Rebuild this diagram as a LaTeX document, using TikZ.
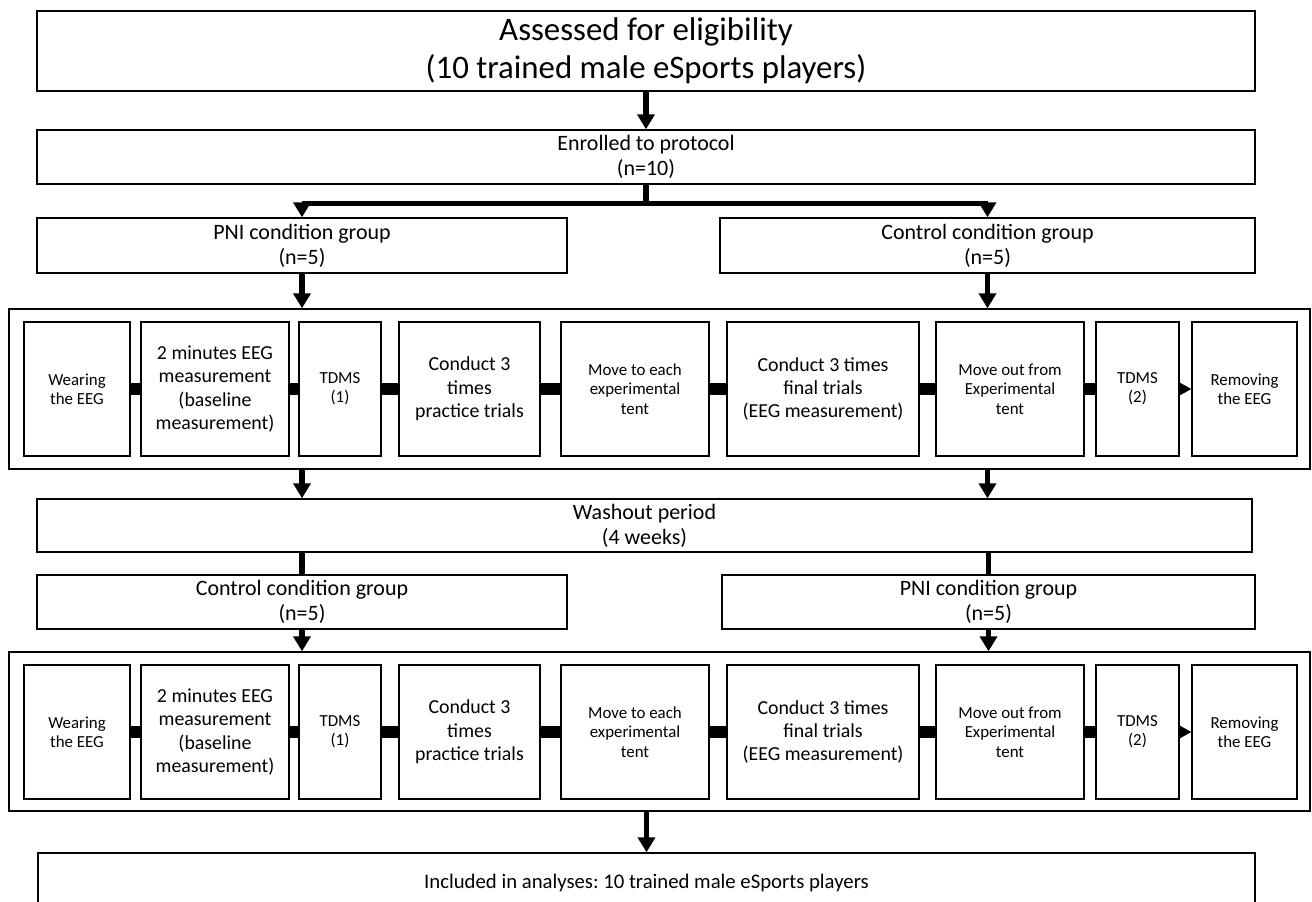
\documentclass[tikz,border=0pt]{standalone}
\usepackage{fontspec}
\setmainfont{Carlito}
\frenchspacing
\usetikzlibrary{arrows.meta, positioning, calc}

\begin{document}
\begin{tikzpicture}[
  x=0.02cm, y=-0.02cm,
  box/.style={rectangle, draw=black, line width=0.8pt, inner sep=0pt, align=center},
  titlefont/.style={font=\fontsize{18.7}{21.5}\selectfont},
  midfont/.style={font=\fontsize{12.5}{14.2}\selectfont},
  stepbig/.style={box, minimum height=2.68cm, font=\fontsize{11.3}{13.3}\selectfont},
  stepsmall/.style={box, minimum height=2.68cm, font=\fontsize{9.6}{11}\selectfont},
  arr/.style={-{Triangle[length=0.3cm, width=0.34cm]}, line width=3pt, black},
  bar/.style={line width=0.24cm, black},
  tip/.style={-{Triangle[length=0.26cm, width=0.28cm]}, line width=1pt, black},
]
\clip (0,0) rectangle (1312,902);

% Enrolment
\node[box, titlefont, minimum width=24.36cm, minimum height=1.6cm] (assess) at (646,51)
  {Assessed for eligibility\\(10 trained male eSports players)};
\node[box, midfont, minimum width=24.36cm, minimum height=1.08cm] (enrol) at (646,157)
  {Enrolled to protocol\\(n=10)};

% First period groups
\node[box, midfont, minimum width=10.6cm, minimum height=1.1cm] (pnione) at (302,245.5)
  {PNI condition group\\(n=5)};
\node[box, midfont, minimum width=10.7cm, minimum height=1.1cm] (ctrlone) at (987.5,245.5)
  {Control condition group\\(n=5)};

% Frames round the two protocol rows
\node[box, minimum width=26.02cm, minimum height=3.2cm] (phasea) at (659.5,389) {};
\node[box, minimum width=26.02cm, minimum height=3.18cm] (phaseb) at (659.5,731.5) {};

% Washout and second period groups
\node[box, midfont, minimum width=24.3cm, minimum height=1.06cm] (washout) at (644.5,525.5)
  {Washout period\\(4 weeks)};
\node[box, midfont, minimum width=10.6cm, minimum height=1.08cm] (ctrltwo) at (302,602)
  {Control condition group\\(n=5)};
\node[box, midfont, minimum width=10.66cm, minimum height=1.08cm] (pnitwo) at (988.5,602)
  {PNI condition group\\(n=5)};

% Analysis
\node[box, font=\fontsize{11.8}{14}\selectfont, minimum width=24.34cm, minimum height=1.2cm] (incl) at (646.5,883)
  {Included in analyses: 10 trained male eSports players};

% Protocol steps, same for both periods
\foreach \r/\yy in {a/389, b/732} {
  \node[stepsmall, minimum width=2.12cm] (wear\r) at (77,\yy) {Wearing\\the EEG};
  \node[stepbig, minimum width=2.96cm] (base\r) at (215,\yy) {2 minutes EEG\\measurement\\(baseline\\measurement)};
  \node[stepsmall, minimum width=1.64cm] (tdmsa\r) at (340,\yy) {TDMS\\(1)};
  \node[stepbig, minimum width=2.82cm] (prac\r) at (469.5,\yy) {Conduct 3\\times\\practice trials};
  \node[stepsmall, minimum width=2.96cm] (movein\r) at (635,\yy) {Move to each\\experimental\\tent};
  \node[stepbig, minimum width=3.84cm] (final\r) at (823,\yy) {Conduct 3 times\\final trials\\(EEG measurement)};
  \node[stepsmall, minimum width=2.96cm] (moveout\r) at (1010,\yy) {Move out from\\Experimental\\tent};
  \node[stepsmall, minimum width=1.66cm] (tdmsb\r) at (1137.5,\yy) {TDMS\\(2)};
  \node[stepsmall, minimum width=2.1cm] (remove\r) at (1244.5,\yy) {Removing\\the EEG};

  \draw[bar] (wear\r) -- (base\r);
  \draw[bar] (base\r) -- (tdmsa\r);
  \draw[bar] (tdmsa\r) -- (prac\r);
  \draw[bar] (prac\r) -- (movein\r);
  \draw[bar] (movein\r) -- (final\r);
  \draw[bar] (final\r) -- (moveout\r);
  \draw[bar] (moveout\r) -- (tdmsb\r);
  \draw[tip] (tdmsb\r) -- (remove\r);
}

% Connectors
\draw[arr] (assess.south) -- (enrol.north);
\draw[line width=3pt] (enrol.south) -- ++(0,19) coordinate (split);
\draw[line width=3pt] (split -| pnione.north) -- (split -| ctrlone.north);
\draw[arr] (split -| pnione.north) -- (pnione.north);
\draw[arr] (split -| ctrlone.north) -- (ctrlone.north);

\draw[arr] (pnione.south) -- (pnione.south |- phasea.north);
\draw[arr] (ctrlone.south) -- (ctrlone.south |- phasea.north);

\draw[arr] (phasea.south -| pnione.south) -- (washout.north -| pnione.south);
\draw[arr] (phasea.south -| ctrlone.south) -- (washout.north -| ctrlone.south);

\draw[line width=3pt] (washout.south -| ctrltwo.north) -- (ctrltwo.north);
\draw[line width=3pt] (washout.south -| pnitwo.north) -- (pnitwo.north);

\draw[arr] (ctrltwo.south) -- (ctrltwo.south |- phaseb.north);
\draw[arr] (pnitwo.south) -- (pnitwo.south |- phaseb.north);

\draw[arr] (phaseb.south -| incl.north) -- (incl.north);

\end{tikzpicture}
\end{document}
